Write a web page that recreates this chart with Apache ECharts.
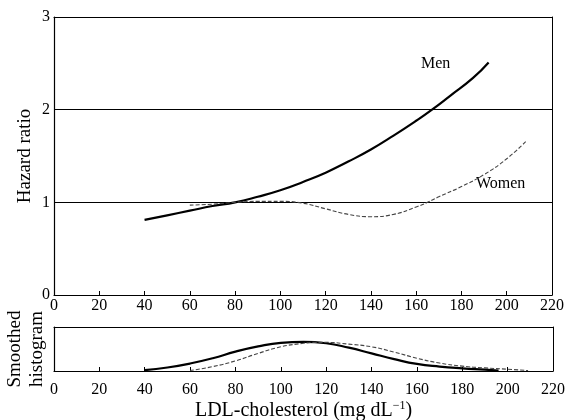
<!DOCTYPE html>
<html>
<head>
<meta charset="utf-8">
<script src="https://cdn.jsdelivr.net/npm/echarts@6/dist/echarts.min.js"></script>
<style>
  html, body { margin: 0; padding: 0; background: #fff; }
  #chart { width: 568px; height: 420px; }
</style>
</head>
<body>
<div id="chart"></div>
<script>
  // hazard ratio curves
  var menLdl = [40, 50, 60, 70, 80, 90, 100, 110, 120, 130, 140, 150, 160, 167, 175, 185, 192];
  var menHr = [0.81, 0.86, 0.91, 0.96, 1.0, 1.06, 1.13, 1.22, 1.32, 1.44, 1.57, 1.72, 1.88, 2.0, 2.15, 2.34, 2.51];
  var womenLdl = [60, 70, 80, 90, 100, 110, 120, 130, 140, 150, 160, 165, 170, 180, 190, 200, 209];
  var womenHr = [0.97, 0.98, 1.0, 1.01, 1.01, 0.99, 0.93, 0.87, 0.845, 0.87, 0.95, 1.0, 1.06, 1.17, 1.3, 1.47, 1.67];

  // smoothed histograms (relative height)
  var menHistX = [40, 50, 60, 70, 80, 90, 100, 110, 120, 130, 140, 150, 160, 170, 180, 190, 196];
  var menHistY = [0.02, 0.08, 0.17, 0.29, 0.44, 0.56, 0.64, 0.66, 0.63, 0.53, 0.40, 0.27, 0.16, 0.10, 0.06, 0.03, 0.01];
  var womenHistX = [60, 70, 80, 90, 100, 110, 115, 120, 130, 140, 150, 160, 170, 180, 190, 200, 209];
  var womenHistY = [0.01, 0.10, 0.23, 0.40, 0.55, 0.63, 0.65, 0.65, 0.61, 0.55, 0.43, 0.29, 0.18, 0.11, 0.07, 0.04, 0.01];

  var xTicks = [0, 20, 40, 60, 80, 100, 120, 140, 160, 180, 200, 220];
  var yTicks = [0, 1, 2, 3];

  function pairs(xs, ys) {
    return xs.map(function (x, i) { return [x, ys[i]]; });
  }

  var font = 'Liberation Serif';
  var chart = echarts.init(document.getElementById('chart'), null, { renderer: 'canvas' });

  function xAxisFor(idx, margin, extra) {
    var ax = {
      type: 'value',
      gridIndex: idx,
      min: xTicks[0],
      max: xTicks[xTicks.length - 1],
      interval: 20,
      axisLine: { show: true, onZero: false, lineStyle: { color: '#000', width: 1.2 } },
      axisTick: { show: true, inside: true, length: 4, lineStyle: { color: '#000' } },
      axisLabel: { color: '#000', fontFamily: font, fontSize: 16, margin: margin },
      splitLine: { show: false }
    };
    for (var k in extra) ax[k] = extra[k];
    return ax;
  }

  // plain frame edge (top / right of each box)
  function edge(idx, pos, max) {
    return {
      type: 'value', gridIndex: idx, position: pos, min: 0, max: max,
      axisLine: { show: true, onZero: false, lineStyle: { color: '#000', width: 1 } },
      axisTick: { show: false }, axisLabel: { show: false }, splitLine: { show: false }
    };
  }

  var option = {
    animation: false,
    backgroundColor: '#fff',
    grid: [
      { left: 54, right: 16, top: 17, height: 278, outerBoundsMode: 'none' },
      { left: 54, right: 15, top: 327, height: 44, outerBoundsMode: 'none' }
    ],
    xAxis: [
      xAxisFor(0, 3, {}),
      xAxisFor(1, 11, {
        name: '{a|LDL-cholesterol (mg dL}{s|−1}{a|)}',
        nameLocation: 'middle',
        nameGap: 29,
        nameMoveOverlap: false,
        nameTextStyle: {
          rich: {
            a: { fontFamily: font, fontSize: 20, color: '#000' },
            s: { fontFamily: font, fontSize: 12, color: '#000', verticalAlign: 'top', padding: [0, 0, 9, 0] }
          }
        }
      }),
      edge(0, 'top', 220),
      edge(1, 'top', 220)
    ],
    yAxis: [
      {
        type: 'value',
        gridIndex: 0,
        min: 0,
        max: 3,
        interval: 1,
        name: 'Hazard ratio',
        nameLocation: 'middle',
        nameGap: 19,
        nameMoveOverlap: false,
        nameRotate: 90,
        nameTextStyle: { fontFamily: font, fontSize: 19, color: '#000' },
        axisLine: { show: true, onZero: false, lineStyle: { color: '#000', width: 1.2 } },
        axisTick: { show: false },
        axisLabel: { color: '#000', fontFamily: font, fontSize: 16, margin: 4,
          formatter: function (v) { return yTicks.indexOf(v) >= 0 ? String(v) : ''; } },
        splitLine: { show: true, lineStyle: { color: '#000', width: 1 } }
      },
      {
        type: 'value',
        gridIndex: 1,
        min: 0,
        max: 1,
        name: 'Smoothed\nhistogram',
        nameLocation: 'middle',
        nameGap: 6,
        nameMoveOverlap: false,
        nameRotate: 90,
        nameTextStyle: { fontFamily: font, fontSize: 19, color: '#000', lineHeight: 22 },
        axisLine: { show: true, onZero: false, lineStyle: { color: '#000', width: 1.2 } },
        axisTick: { show: false },
        axisLabel: { show: false },
        splitLine: { show: false }
      },
      edge(0, 'right', 3),
      edge(1, 'right', 1)
    ],
    series: [
      {
        name: 'Men',
        type: 'line',
        xAxisIndex: 0, yAxisIndex: 0,
        data: pairs(menLdl, menHr),
        smooth: true,
        showSymbol: false,
        lineStyle: { color: '#000', width: 2.2 }
      },
      {
        name: 'Women',
        type: 'line',
        xAxisIndex: 0, yAxisIndex: 0,
        data: pairs(womenLdl, womenHr),
        smooth: true,
        showSymbol: false,
        lineStyle: { color: '#444', width: 1.1, type: [4, 2] }
      },
      {
        name: 'Men histogram',
        type: 'line',
        xAxisIndex: 1, yAxisIndex: 1,
        data: pairs(menHistX, menHistY),
        smooth: true,
        showSymbol: false,
        lineStyle: { color: '#000', width: 2.2 }
      },
      {
        name: 'Women histogram',
        type: 'line',
        xAxisIndex: 1, yAxisIndex: 1,
        data: pairs(womenHistX, womenHistY),
        smooth: true,
        showSymbol: false,
        lineStyle: { color: '#444', width: 1.1, type: [4, 2] }
      }
    ],
    graphic: [
      { type: 'text', left: 421, top: 56, style: { text: 'Men', font: '16px "Liberation Serif"', fill: '#000' } },
      { type: 'text', left: 476, top: 176, style: { text: 'Women', font: '16px "Liberation Serif"', fill: '#000' } }
    ]
  };

  chart.setOption(option);
</script>
</body>
</html>
